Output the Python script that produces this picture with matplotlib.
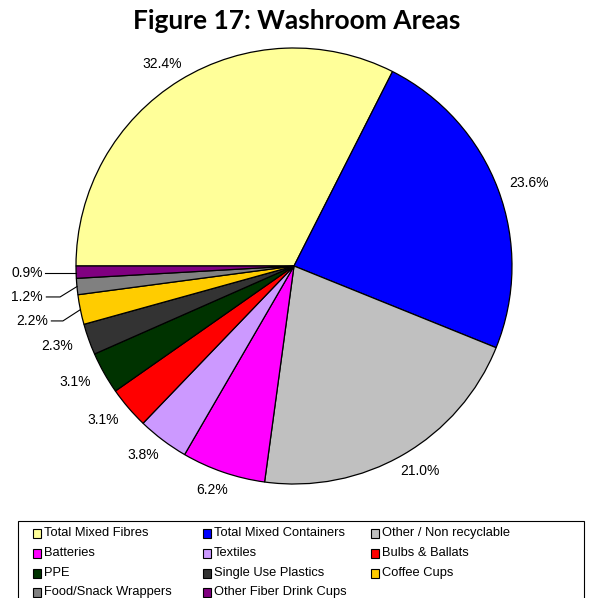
import numpy as np
import matplotlib.pyplot as plt
from matplotlib.patches import Rectangle

# data
categories = ['Total Mixed Fibres', 'Total Mixed Containers', 'Other / Non recyclable',
              'Batteries', 'Textiles', 'Bulbs & Ballats',
              'PPE', 'Single Use Plastics', 'Coffee Cups',
              'Food/Snack Wrappers', 'Other Fiber Drink Cups']
values = [32.4, 23.6, 21.0, 6.2, 3.8, 3.1, 3.1, 2.3, 2.2, 1.2, 0.9]
colors = ['#FFFF99', '#0000FF', '#C0C0C0', '#FF00FF', '#CC99FF', '#FF0000',
          '#003300', '#333333', '#FFCC00', '#808080', '#800080']

W, H = 593, 598
fig = plt.figure(figsize=(W / 100, H / 100), dpi=100)
plt.rcParams['font.family'] = ['Liberation Sans', 'DejaVu Sans']

# pie axes: centre (294, 266) px, radius 218 px
cx, cy, r = 294, 266, 218
ax = fig.add_axes([(cx - r) / W, (H - cy - r) / H, 2 * r / W, 2 * r / H])
wedges, _ = ax.pie(values, colors=colors, startangle=180, counterclock=False,
                   wedgeprops=dict(edgecolor='black', linewidth=0.9))
ax.set_xlim(-1, 1)
ax.set_ylim(-1, 1)

# percentage labels; the three smallest get leader lines
leader = {8: (-1.128, -0.252, -1.06), 9: (-1.151, -0.142, -1.073), 10: (-1.151, -0.032, None)}
hw, hh = 20 / r, 6 / r
for i, w in enumerate(wedges):
    th = np.deg2rad((w.theta1 + w.theta2) / 2)
    txt = f'{values[i]:.1f}%'
    if i in leader:
        lx, ly, kx = leader[i]
        ex, ey = np.cos(th), np.sin(th)
        if kx is None:
            ax.plot([lx + 0.01, ex], [ly, ly], color='black', lw=0.8, clip_on=False)
        else:
            ax.plot([lx + 0.015, kx, ex], [ly, ly, ey], color='black', lw=0.8,
                    clip_on=False)
        ax.text(lx, ly, txt, ha='right', va='center', fontsize=10)
    else:
        ra = 1.06
        x = ra * np.cos(th) + hw * np.cos(th)
        y = ra * np.sin(th) + hh * np.sin(th)
        ax.text(x, y, txt, ha='center', va='center', fontsize=10)

fig.text(297 / W, 1 - 21 / H, 'Figure 17: Washroom Areas', ha='center', va='center',
         fontsize=19, fontweight='bold', family=['Lato', 'DejaVu Sans'])

# legend box
fig.patches.append(Rectangle((18 / W, -0.01), 566 / W, (H - 521) / H + 0.01,
                             transform=fig.transFigure,
                             facecolor='white', edgecolor='black', linewidth=0.8))
col_x = [33, 203, 371]
row_y = [533, 553, 573, 592]
for i, lab in enumerate(categories):
    x = col_x[i % 3]
    y = row_y[i // 3]
    fig.patches.append(Rectangle((x / W, (H - y - 4.5) / H), 8 / W, 9 / H,
                                 transform=fig.transFigure, facecolor=colors[i],
                                 edgecolor='black', linewidth=0.8))
    fig.text((x + 11) / W, 1 - y / H, lab, ha='left', va='center', fontsize=9.3)

fig.savefig('out.png', dpi=100)
